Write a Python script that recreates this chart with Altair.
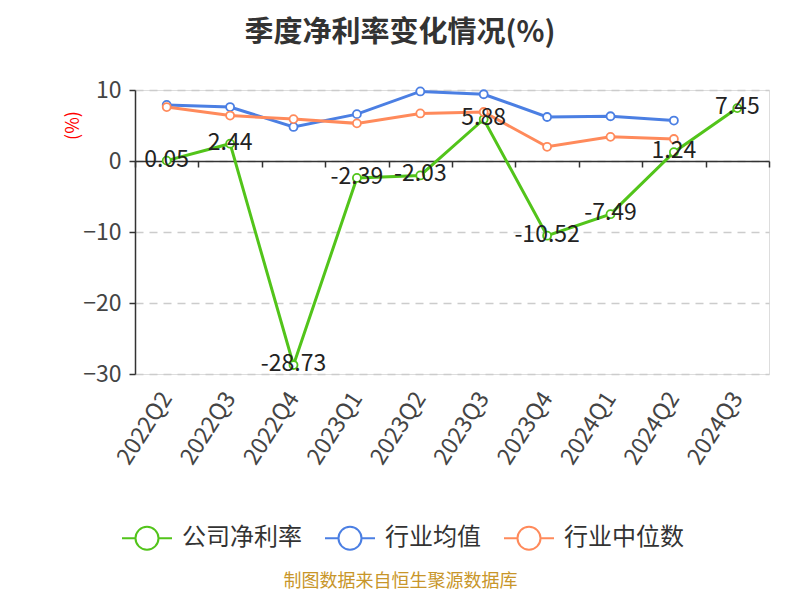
import altair as alt
import pandas as pd

quarters = ["2022Q2", "2022Q3", "2022Q4", "2023Q1", "2023Q2",
            "2023Q3", "2023Q4", "2024Q1", "2024Q2", "2024Q3"]
company = [0.05, 2.44, -28.73, -2.39, -2.03, 5.88, -10.52, -7.49, 1.24, 7.45]
industry_avg = [7.9, 7.6, 4.8, 6.6, 9.8, 9.4, 6.2, 6.3, 5.7, None]
industry_median = [7.6, 6.4, 5.9, 5.3, 6.7, 6.9, 2.0, 3.4, 3.1, None]
series_names = ["公司净利率", "行业均值", "行业中位数"]
series_colors = ["#52c41a", "#4b7fe3", "#ff8a5b"]
y_ticks = [-30, -20, -10, 0, 10]

rows = []
for name, vals in zip(series_names, [company, industry_avg, industry_median]):
    for q, v in zip(quarters, vals):
        if v is not None:
            rows.append({"quarter": q, "series": name, "value": v, "label": f"{v:.2f}"})
df = pd.DataFrame(rows)

FONT = "Noto Sans CJK SC"
W, H = 634, 284

legend_path = ("M-1,0L-0.46,0M0.46,0L1,0M0.46,0A0.46,0.46,0,1,1,-0.46,0"
               "A0.46,0.46,0,1,1,0.46,0Z")

x_enc = alt.X(
    "quarter:N", sort=quarters,
    scale=alt.Scale(type="band", paddingInner=0, paddingOuter=0),
    axis=alt.Axis(
        orient="bottom", offset=-213, tickBand="extent",
        domainColor="#333", domainWidth=1.5, tickColor="#333", tickWidth=1.5, tickSize=6,
        labelAngle=-57, labelAlign="right", labelBaseline="middle",
        labelPadding=227, labelFontSize=23, labelColor="#444", labelOverlap=False,
        labelFont=FONT,
        title="制图数据来自恒生聚源数据库", titleX=265, titleY=420,
        titleAlign="center", titleBaseline="middle", titleFontSize=18,
        titleFontWeight="normal", titleColor="#c8962a", titleFont=FONT,
    ),
)
y_enc = alt.Y(
    "value:Q",
    scale=alt.Scale(domain=[-30, 10], nice=False, zero=False),
    axis=alt.Axis(
        values=y_ticks, grid=True, gridDash=[8, 6], gridColor="#cccccc", gridWidth=1.3,
        domainColor="#333", domainWidth=1.5, tickColor="#333", tickWidth=1.5, tickSize=6,
        labelFontSize=23, labelColor="#444", labelPadding=8, labelFont=FONT,
        title="(%)", titleColor="#ff0000", titleFontSize=18, titleFontWeight="normal",
        titleX=-62, titleY=35, titleAngle=-90, titleAlign="center",
        titleBaseline="middle", titleFont=FONT,
    ),
)
color_enc = alt.Color(
    "series:N",
    scale=alt.Scale(domain=series_names, range=series_colors),
    legend=alt.Legend(
        orient="none", direction="horizontal", legendX=-14, legendY=422,
        title=None, symbolType=legend_path, symbolSize=2500,
        symbolStrokeWidth=2, symbolFillColor="white",
        labelFontSize=24, labelColor="#333", labelFont=FONT,
        labelOffset=9, columnPadding=19, padding=0,
    ),
)

base = alt.Chart(df)

lines = base.mark_line(strokeWidth=3).encode(
    x=x_enc, y=y_enc, color=color_enc, order=alt.Order("quarter:N"))
points = base.mark_point(filled=False, fill="white", size=64, strokeWidth=1.8,
                         opacity=1).encode(x=x_enc, y=y_enc, color=color_enc)
labels = base.transform_filter(alt.datum.series == "公司净利率").mark_text(
    fontSize=23, color="#222", baseline="middle", align="center", dy=-1, font=FONT
).encode(x=x_enc, y=y_enc, text="label:N")

chart = alt.layer(lines, points, labels).properties(
    width=W, height=H,
    autosize=alt.AutoSizeParams(type="none"),
    padding={"left": 127, "top": 82, "right": 23, "bottom": 218},
    title=alt.TitleParams(
        "季度净利率变化情况(%)", anchor="middle", dx=-52, offset=31,
        fontSize=29, fontWeight="bold", color="#333", font=FONT,
    ),
).configure_view(stroke=None).configure(font=FONT)

chart.save("out.html", embed_options={"renderer": "svg", "actions": False})
